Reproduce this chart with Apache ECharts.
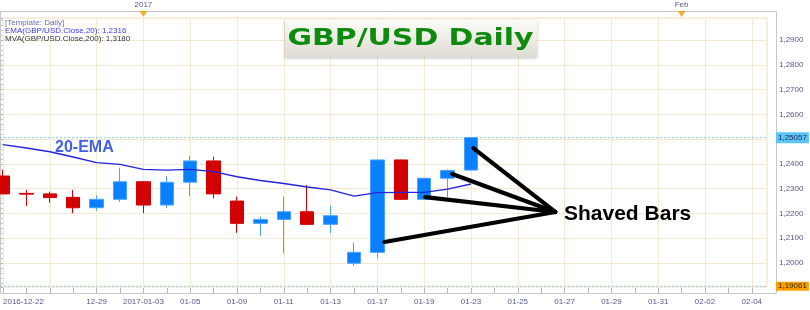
<!DOCTYPE html>
<html><head><meta charset="utf-8">
<script src="https://cdn.jsdelivr.net/npm/echarts@6/dist/echarts.min.js"></script>
<style>html,body{margin:0;padding:0;background:#fff}#c{width:810px;height:310px}</style>
</head><body><div id="c"></div>
<script>
// ---- data ----
const dates = ['2016-12-22','2016-12-23','2016-12-27','2016-12-28','2016-12-29','2016-12-30',
  '2017-01-03','2017-01-04','2017-01-05','2017-01-06','2017-01-09','2017-01-10','2017-01-11',
  '2017-01-12','2017-01-13','2017-01-16','2017-01-17','2017-01-18','2017-01-19','2017-01-20',
  '2017-01-23','2017-01-24','2017-01-25','2017-01-26','2017-01-27','2017-01-28','2017-01-29',
  '2017-01-30','2017-01-31','2017-02-01','2017-02-02','2017-02-03','2017-02-04'];
const openP  = [1.2351,1.2281,1.2279,1.2265,1.2223,1.2257,1.2328,1.2234,1.2326,1.2412,1.2250,1.2160,1.2176,1.2207,1.2156,1.1999,1.2043,1.2416,1.2257,1.2342,1.2375];
const closeP = [1.2279,1.2278,1.2264,1.2223,1.2257,1.2328,1.2234,1.2326,1.2412,1.2279,1.2160,1.2176,1.2207,1.2156,1.2191,1.2043,1.2416,1.2257,1.2342,1.2373,1.2506];
const lowP   = [1.2277,1.2230,1.2243,1.2201,1.2211,1.2246,1.2201,1.2221,1.2272,1.2261,1.2122,1.2109,1.2039,1.2154,1.2120,1.1988,1.2019,1.2255,1.2256,1.2265,1.2374];
const highP  = [1.2375,1.2295,1.2288,1.2295,1.2273,1.2385,1.2329,1.2351,1.2432,1.2429,1.2268,1.2187,1.2268,1.2315,1.2230,1.2082,1.2418,1.2417,1.2343,1.2378,1.2507];
const ema20  = [1.2478,1.2464,1.2449,1.2428,1.2405,1.2398,1.2378,1.2375,1.2378,1.2369,1.2348,1.2333,1.2321,1.2307,1.2295,1.2270,1.2284,1.2285,1.2285,1.2298,1.2319];
const lastPrice = 1.25057;
const lowMark = 1.19061;
const pointerHub = [23.6, 1.2206];
const pointerTips = [[16.3,1.2085],[18.05,1.2266],[19.2,1.2359],[20.1,1.2464]];
const topMarks = [['2017-01-03','2017'],['2017-02-01','Feb']];
const legendLines = ['[Template: Daily]','EMA(GBP/USD.Close,20): 1,2316','MVA(GBP/USD.Close,200): 1,3180'];

// ---- layout ----
const yMin = 1.19032, yMax = 1.29888;
const xMin = -0.1282, xMax = 32.65;
const gridLine = '#f6e9d3';
const lblColor = '#55578a';
const FONT = 'Liberation Sans';

const chart = echarts.init(document.getElementById('c'), null, {renderer:'canvas'});
const candleData = openP.map((o,i)=>[o, closeP[i], lowP[i], highP[i]]);
const topIdx = topMarks.map(m=>dates.indexOf(m[0]));

chart.setOption({
  animation:false,
  backgroundColor:'#fff',
  textStyle:{fontFamily:FONT},
  grid:[
    {left:0, right:43, top:18, bottom:23, show:true, borderColor:'#f0dcb8', borderWidth:1, backgroundColor:'#fff'},
    {left:3, right:58.2, top:18, bottom:23}
  ],
  xAxis:[
    {type:'value', gridIndex:0, min:xMin, max:xMax, show:false},
    {type:'category', gridIndex:1, data:dates, boundaryGap:false, position:'bottom', offset:6,
     axisLine:{show:false},
     axisTick:{show:true, inside:true, length:5, interval:0, lineStyle:{color:'#b8b8b8'}},
     axisLabel:{margin:5, color:lblColor, fontSize:8, fontFamily:FONT, alignMinLabel:'left',
       interval:(i)=> i%2===0 && i!==2,
       formatter:(v,i)=> (i===0||i===6) ? v : v.slice(5)},
     splitLine:{show:true, interval:1, lineStyle:{color:gridLine, width:1}}},
    {type:'category', gridIndex:1, data:dates, boundaryGap:false, position:'top', offset:7,
     axisLine:{show:false}, axisTick:{show:false},
     axisLabel:{margin:2, color:lblColor, fontSize:8, fontFamily:FONT,
       interval:(i)=> topIdx.indexOf(i)>=0,
       formatter:(v,i)=>{const k=topIdx.indexOf(i);return k>=0?topMarks[k][1]:'';}},
     splitLine:{show:false}}
  ],
  yAxis:[
    {type:'value', gridIndex:0, position:'right', min:yMin, max:yMax, minInterval:0.01, maxInterval:0.01, splitNumber:11, offset:9,
     axisLine:{show:false},
     axisTick:{show:true, inside:true, length:5, lineStyle:{color:'#b0b0b0'}},
     minorTick:{show:true, splitNumber:5, length:3, lineStyle:{color:'#c8c8c8'}},
     axisLabel:{margin:3, color:lblColor, fontSize:8, fontFamily:FONT, showMinLabel:false, showMaxLabel:false,
       formatter:(v)=>v.toFixed(4).replace('.',',')},
     splitLine:{show:true, showMinLine:false, showMaxLine:false, lineStyle:{color:gridLine, width:1}}},
    {type:'value', gridIndex:1, min:yMin, max:yMax, show:false, splitLine:{show:false}}
  ],
  series:[
    {type:'line', xAxisIndex:0, yAxisIndex:0, data:[[xMin,lastPrice],[xMax,lastPrice]], symbol:'none', silent:true,
     lineStyle:{color:'#86c8f0', width:1, type:[2,2]},
     endLabel:{show:true, distance:9, formatter:()=>lastPrice.toFixed(5).replace('.',','), backgroundColor:'#5ec6f6', color:'#1a2a55', fontSize:8, fontFamily:FONT, padding:[2,2,1,2]}},
    {type:'line', xAxisIndex:0, yAxisIndex:0, data:[[xMin,lowMark],[xMax,lowMark]], symbol:'none', silent:true,
     lineStyle:{color:'#86c8f0', width:1, type:[2,2]},
     endLabel:{show:true, distance:9, formatter:()=>lowMark.toFixed(5).replace('.',','), backgroundColor:'#f7a000', color:'#3a2a00', fontSize:8, fontFamily:FONT, padding:[1,2,0,2]}},
    {type:'candlestick', xAxisIndex:1, yAxisIndex:1, data:candleData, barWidth:14, clip:false, z:3,
     itemStyle:{color:'#0a80ff', color0:'#d20000', borderColor:'#4aa2ff', borderColor0:'#d20000', borderWidth:1}},
    {type:'line', xAxisIndex:1, yAxisIndex:1, data:ema20, symbol:'none', silent:true, z:4,
     lineStyle:{color:'#2424dc', width:1.4}},
    {type:'scatter', xAxisIndex:1, yAxisIndex:1, clip:false, silent:true, z:5,
     data: topMarks.map(m=>[m[0], yMax+0.0016]),
     symbol:'triangle', symbolRotate:180, symbolSize:[8,6], itemStyle:{color:'#f59a00'}},
    {type:'lines', coordinateSystem:'cartesian2d', xAxisIndex:0, yAxisIndex:0, silent:true, z:6,
     data: pointerTips.map(p=>({coords:[pointerHub, p]})),
     lineStyle:{color:'#000', width:4.2, opacity:1, cap:'round', curveness:0}}
  ],
  graphic:[
    {type:'rect', shape:{x:0.5, y:11.5, width:776, height:282}, silent:true, z:1,
     style:{fill:null, stroke:'#c8c8c8', lineWidth:1}},
    {type:'text', left:5, top:18.5, silent:true, z:100, style:{text:legendLines[0], fill:'#6c6cb0', font:'8px '+FONT}},
    {type:'text', left:5, top:27, silent:true, z:100, style:{text:legendLines[1], fill:'#3a3af0', font:'8px '+FONT}},
    {type:'text', left:5, top:35, silent:true, z:100, style:{text:legendLines[2], fill:'#333', font:'8px '+FONT}},
    {type:'rect', shape:{x:285, y:20, width:252, height:37}, silent:true, z:100,
     style:{fill:new echarts.graphic.LinearGradient(0,0,0,1,[{offset:0,color:'#fbfbf8'},{offset:1,color:'#dedcd2'}]),
            shadowBlur:3, shadowColor:'rgba(0,0,0,0.25)', shadowOffsetY:1}},
    {type:'text', x:410.5, y:39, scaleX:1.3, silent:true, z:101,
     style:{text:'GBP/USD Daily', fill:'#0e8a0e', font:'bold 23px "DejaVu Sans"', align:'center', verticalAlign:'middle'}},
    {type:'text', left:55, top:139.5, silent:true, z:100,
     style:{text:'20-EMA', fill:'#4060e8', font:'bold 16px '+FONT}},
    {type:'text', left:564, top:203.5, silent:true, z:100,
     style:{text:'Shaved Bars', fill:'#000', font:'bold 21px '+FONT}}
  ]
});
</script></body></html>
